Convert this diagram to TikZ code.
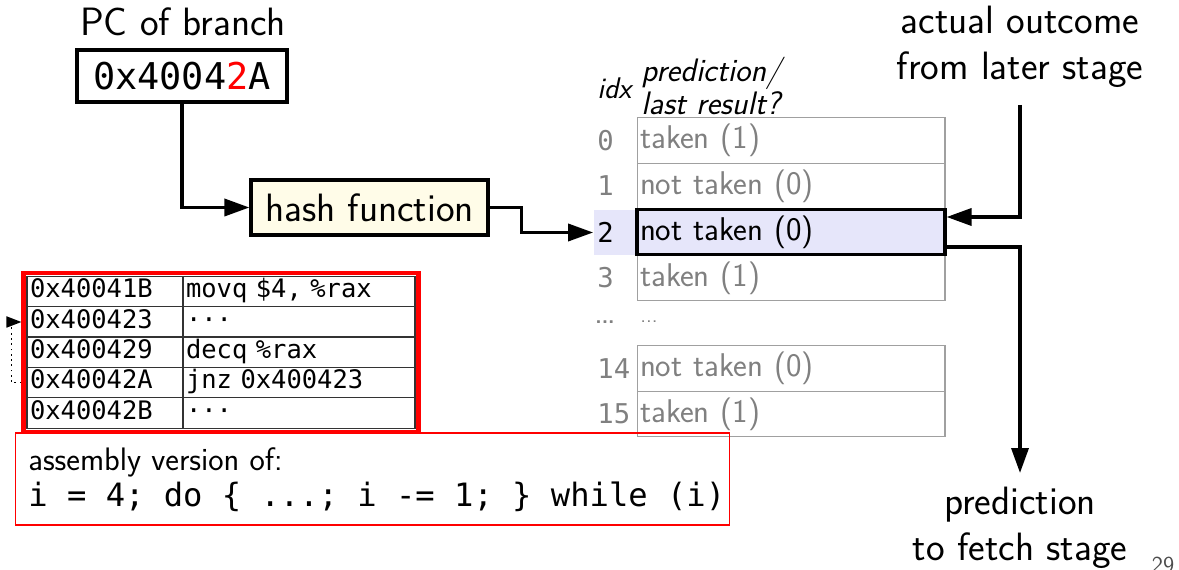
\documentclass[tikz,border=0pt]{standalone}
\usepackage{fontspec}
\setmonofont{DejaVu Sans Mono}
\renewcommand{\familydefault}{\sfdefault}
\usepackage{tikz}
\usetikzlibrary{arrows.meta}
\usetikzlibrary{calc}
\usetikzlibrary{fit}
\definecolor{hlblue}{RGB}{230,230,250}
\definecolor{hashfill}{RGB}{255,252,232}
\definecolor{txtgray}{RGB}{128,128,128}
\definecolor{linegray}{RGB}{160,160,160}
\tikzstyle{cell}=[draw=linegray, line width=0.6pt, text width=6.04cm, inner sep=0.06cm, minimum height=0.91cm, align=left, text=txtgray, font=\fontsize{18.7}{21}\selectfont]
\tikzstyle{hlcell}=[cell, draw=black, line width=1.8pt, fill=hlblue, text=black]
\tikzstyle{idxnum}=[anchor=west, inner sep=0pt, text=txtgray, font=\ttfamily\fontsize{15.5}{18}\selectfont]
\tikzstyle{asmcell}=[draw=black!80, line width=0.6pt, inner xsep=0.06cm, inner ysep=0.05cm, text height=0.36cm, text depth=0.1cm, minimum height=0.61cm, align=left, font=\ttfamily\fontsize{14.5}{16}\selectfont]
\tikzstyle{conn}=[line width=2pt, -{Triangle[length=0.5cm,width=0.34cm]}]
\tikzstyle{bigtext}=[font=\fontsize{22.5}{26}\selectfont, align=center]

\begin{document}
\begin{tikzpicture}[x=0.02cm, y=-0.02cm]
    \useasboundingbox (0,0) rectangle (1179,570);

    % branch address and hash
    \node[bigtext] (pclabel) at (183,22) {PC of branch};
    \node[draw, line width=1.8pt, minimum width=4.2cm, minimum height=1.04cm, font=\ttfamily\fontsize{21}{25}\selectfont] (pcbox) at (182,76) {0x4004\textcolor{red}{2}A};
    \node[draw, line width=1.8pt, fill=hashfill, minimum width=4.74cm, minimum height=1.1cm, bigtext] (hash) at (369.5,207.5) {hash function};

    % prediction table
    \node[font=\itshape\fontsize{17}{19}\selectfont, inner sep=0pt, anchor=west] (idxhead) at (597,88) {idx};
    \node[font=\itshape\fontsize{18.5}{19}\selectfont, inner sep=0pt, anchor=west, align=left] (predhead) at (641,86) {prediction/\\last result?};
    \foreach \i/\y/\res in {0/140.5/taken (1), 1/186/not taken (0), 3/278/taken (1), 14/368.5/not taken (0), 15/414/taken (1)}{
      \node[cell] (row\i) at (791,\y) {\res};
      \node[idxnum] (idx\i) at (597,\y) {\i};
    }
    \node[fill=hlblue, minimum width=0.86cm, minimum height=0.92cm, inner sep=0pt] (idxhl) at (615,232.5) {};
    \node[hlcell] (row2) at (791,232) {not taken (0)};
    \node[idxnum, text=black] (idx2) at (597,232) {2};
    \node[text=txtgray, inner sep=0pt, font=\bfseries\fontsize{12}{12}\selectfont] (dotsidx) at (605,322) {...};
    \node[text=txtgray, inner sep=0pt, font=\fontsize{12}{12}\selectfont] (dotscell) at (649,322) {...};

    % assembly listing
    \node[draw=red, line width=0.6pt, minimum width=14.3cm, minimum height=1.84cm] (srcbox) at (372.5,479) {};
    \foreach \r/\y/\addr/\ins in {1/291.5/0x40041B/{movq \$4, \%rax}, 2/322/0x400423/{···}, 3/352/0x400429/{decq \%rax}, 4/382.5/0x40042A/{jnz 0x400423}, 5/413/0x40042B/{···}}{
      \node[asmcell, text width=3cm] (addr\r) at (105,\y) {\addr};
      \node[asmcell, text width=4.52cm] (ins\r) at (299,\y) {\ins};
    }
    \node[fit=(addr1)(ins5), draw=red, line width=2.3pt, inner sep=0.06cm] (asmframe) {};
    \node[anchor=west, inner sep=0pt, font=\fontsize{18.5}{20}\selectfont] (srccap) at (28,462) {assembly version of:};
    \node[anchor=west, inner sep=0pt, font=\ttfamily\fontsize{18.3}{21}\selectfont] (srccode) at (28,497) {i = 4; do \{ ...; i -= 1; \} while (i)};

    % outcome and prediction
    \node[bigtext] (outcome) at (1020,47) {actual outcome\\from later stage};
    \node[bigtext] (predout) at (1020,528) {prediction\\to fetch stage};
    \coordinate (outtop) at (1020,105);
    \coordinate (predtip) at (1020,473);
    \node[text=black!70, inner sep=0pt, anchor=north, font=\fontsize{13}{15}\selectfont] (pagenum) at (1163,557) {29};

    \draw[conn] (pcbox.south) |- (hash.west);
    \draw[conn] (hash.east) -- ++(32,0) |- (idxhl.west);
    \draw[conn] (outtop) |- ($(row2.east)+(0,-15)$);
    \draw[conn] ($(row2.east)+(0,15)$) -| (predtip);
    \draw[dotted, line width=1pt, -{Triangle[length=0.3cm,width=0.22cm]}] (addr4.west -| asmframe.west) -- ++(-10,0) |- (addr2.west -| asmframe.west);
\end{tikzpicture}
\end{document}
